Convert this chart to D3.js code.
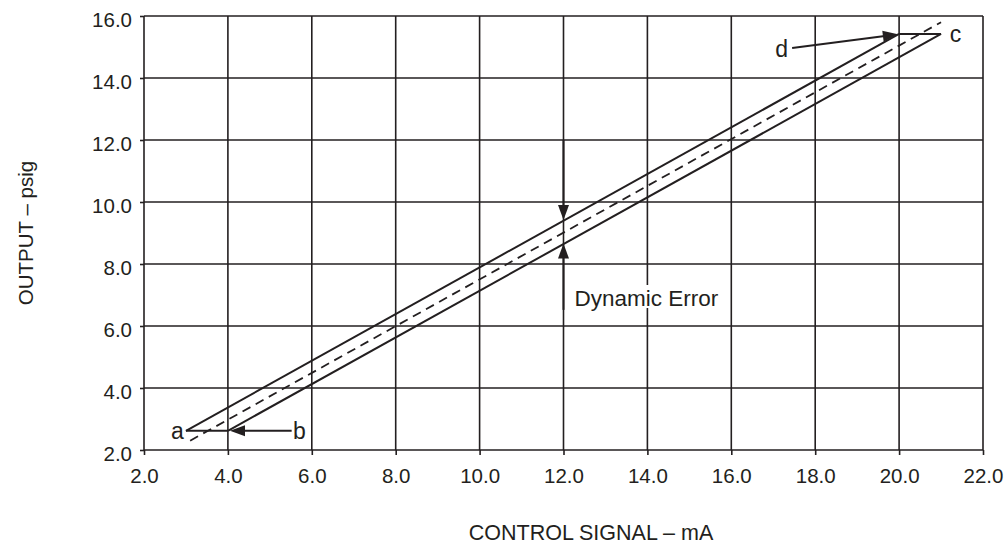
<!DOCTYPE html>
<html><head><meta charset="utf-8">
<script src="https://cdn.jsdelivr.net/npm/d3@7"></script>
<style>body{margin:0;background:#fff}svg{display:block;font-family:"Liberation Sans",Arial,sans-serif}</style>
</head><body><svg id="c" width="1008" height="546"></svg>
<script>
const xTicks = [2,4,6,8,10,12,14,16,18,20,22];
const yTicks = [2,4,6,8,10,12,14,16];
// hysteresis loop a -> b -> c -> d (upper line a-d, lower line b-c)
const upperLine = [[3.0,2.62],[20.0,15.42]];
const lowerLine = [[4.0,2.62],[21.0,15.42]];
const bottomSeg = [[3.0,2.62],[4.0,2.62]];
const topSeg = [[20.0,15.42],[21.0,15.42]];
const midLine = [[3.1,2.3],[21.0,15.8]];
const pointLabels = [
  {t:"a", x:2.95, y:2.355, anchor:"end"},
  {t:"b", x:5.55, y:2.355, anchor:"start"},
  {t:"c", x:21.21, y:15.16, anchor:"start"},
  {t:"d", x:17.35, y:14.68, anchor:"end"}
];
const arrows = [
  {from:[5.52,2.62], to:[4.05,2.62]},
  {from:[17.45,14.97], to:[19.97,15.41]},
  {from:[12.0,12.0], to:[12.0,9.42]},
  {from:[12.0,6.52], to:[12.0,8.66]}
];
const annText = {t:"Dynamic Error", x:12.26, y:6.645};

const svg = d3.select("#c");
const x = d3.scaleLinear().domain([2,22]).range([144,983]);
const y = d3.scaleLinear().domain([2,16]).range([450,16]);
const ink = "#231f20";

// grid
svg.append("g").selectAll("line").data(xTicks).join("line")
  .attr("x1",d=>x(d)).attr("x2",d=>x(d)).attr("y1",y(16)).attr("y2",y(2))
  .attr("stroke",ink).attr("stroke-width",1.6);
svg.append("g").selectAll("line").data(yTicks).join("line")
  .attr("x1",x(2)).attr("x2",x(22)).attr("y1",d=>y(d)).attr("y2",d=>y(d))
  .attr("stroke",ink).attr("stroke-width",1.6);

const gx = svg.append("g").attr("transform","translate(0,450)")
  .call(d3.axisBottom(x).tickValues(xTicks).tickFormat(d3.format(".1f")).tickSize(5).tickPadding(13));
const gy = svg.append("g").attr("transform","translate(144,0)")
  .call(d3.axisLeft(y).tickValues(yTicks).tickFormat(d3.format(".1f")).tickSize(4).tickPadding(8));
[gx,gy].forEach(g=>{
  g.attr("font-size",null).attr("font-family",null);
  g.select(".domain").remove();
  g.selectAll("line").attr("stroke",ink).attr("stroke-width",1.6);
  g.selectAll("text").style("font-size","20.5px").attr("fill",ink);
});
gy.selectAll("text").attr("dy","0.5em");

// annotation text with white background
const ag = svg.append("g");
const bgRect = ag.append("rect").attr("fill","#fff");
const tb = ag.append("text").attr("x",x(annText.x)).attr("y",y(annText.y))
  .style("font-size","22.5px").attr("fill",ink).text(annText.t);
const bb = tb.node().getBBox();
bgRect.attr("x",bb.x-3).attr("y",bb.y-1).attr("width",bb.width+6).attr("height",bb.height-2);

const line = d3.line().x(d=>x(d[0])).y(d=>y(d[1]));
[upperLine,lowerLine,bottomSeg,topSeg].forEach(p=>{
  svg.append("path").attr("d",line(p)).attr("fill","none").attr("stroke",ink).attr("stroke-width",2);
});
svg.append("path").attr("d",line(midLine)).attr("fill","none").attr("stroke",ink)
  .attr("stroke-width",1.8).attr("stroke-dasharray","9,6");

const headL = 15, headW = 11;
arrows.forEach(a=>{
  const x1=x(a.from[0]), y1=y(a.from[1]), x2=x(a.to[0]), y2=y(a.to[1]);
  const dx=x2-x1, dy=y2-y1, L=Math.hypot(dx,dy), ux=dx/L, uy=dy/L;
  const bx=x2-ux*headL, by=y2-uy*headL;
  svg.append("line").attr("x1",x1).attr("y1",y1).attr("x2",bx+ux*2).attr("y2",by+uy*2)
    .attr("stroke",ink).attr("stroke-width",2);
  const px=-uy*headW/2, py=ux*headW/2;
  svg.append("path").attr("d",`M${x2},${y2}L${bx+px},${by+py}L${bx-px},${by-py}Z`).attr("fill",ink);
});
pointLabels.forEach(l=>{
  svg.append("text").attr("x",x(l.x)).attr("y",y(l.y))
    .attr("text-anchor",l.anchor).style("font-size","23px").attr("fill",ink).text(l.t);
});

svg.append("text").attr("x",591).attr("y",540).attr("text-anchor","middle")
  .style("font-size","21.5px").attr("fill",ink).text("CONTROL SIGNAL – mA");
svg.append("text").attr("transform","translate(33,233) rotate(-90)").attr("text-anchor","middle")
  .style("font-size","20.5px").attr("fill",ink).text("OUTPUT – psig");
</script></body></html>
